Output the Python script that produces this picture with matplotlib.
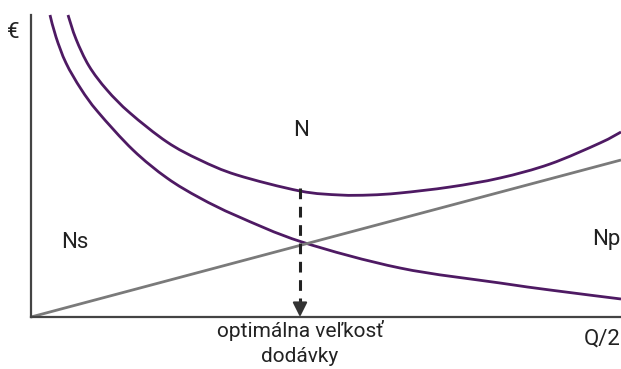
import matplotlib
matplotlib.use("Agg")
import matplotlib.pyplot as plt
from matplotlib.path import Path
from matplotlib.patches import PathPatch

# values (x: quantity, y: cost), arbitrary units
ns_x = [19, 25, 35, 50, 67, 102, 136, 169, 206, 271, 369, 469, 519, 590]
ns_y = [302, 280, 254, 228, 205, 167, 139, 119, 101, 75, 49, 34, 27, 18]

n_x = [37, 45, 58, 76, 99, 136, 169, 206, 269, 309, 339, 369, 419, 469, 519, 569, 590]
n_y = [302, 278, 251, 227, 204, 175, 157, 142, 126, 122, 122, 124, 130, 139, 153, 174, 185]

np_x = [0, 590]
np_y = [0, 157]

opt_x = 269
opt_y = 129

PURPLE = "#4e1a63"
GREY = "#7a7a7a"
AXIS = "#444444"


def smooth_path(xs, ys):
    # catmull-rom through the read points, drawn as cubic bezier segments
    pts = list(zip(xs, ys))
    verts = [pts[0]]
    codes = [Path.MOVETO]
    for i in range(len(pts) - 1):
        p0 = pts[i - 1] if i > 0 else pts[i]
        p1 = pts[i]
        p2 = pts[i + 1]
        p3 = pts[i + 2] if i + 2 < len(pts) else pts[i + 1]
        c1 = (p1[0] + (p2[0] - p0[0]) / 6, p1[1] + (p2[1] - p0[1]) / 6)
        c2 = (p2[0] - (p3[0] - p1[0]) / 6, p2[1] - (p3[1] - p1[1]) / 6)
        verts += [c1, c2, p2]
        codes += [Path.CURVE4] * 3
    return Path(verts, codes)


plt.rcParams['font.family'] = ['Roboto', 'DejaVu Sans']

fig = plt.figure(figsize=(6.21, 3.69), dpi=100)
ax = fig.add_axes([31 / 621, 52 / 369, 590 / 621, 302 / 369])
ax.set_xlim(0, 590)
ax.set_ylim(0, 302)

ax.plot(np_x, np_y, color=GREY, lw=2, clip_on=False, solid_capstyle='butt')
for xs, ys in [(ns_x, ns_y), (n_x, n_y)]:
    ax.add_patch(PathPatch(smooth_path(xs, ys), facecolor='none', edgecolor=PURPLE,
                           lw=2, clip_on=False))

# dashed line + solid arrow head
ax.plot([opt_x, opt_x], [opt_y, 14], color="#222222", lw=2.2, ls=(0, (3.5, 2.5)))
ax.annotate('', xy=(opt_x, 0), xytext=(opt_x, 16),
            arrowprops=dict(arrowstyle='-|>', color="#333333", lw=1.5,
                            mutation_scale=22, shrinkA=0, shrinkB=0))

for s in ['top', 'right']:
    ax.spines[s].set_visible(False)
for s in ['left', 'bottom']:
    ax.spines[s].set_color(AXIS)
    ax.spines[s].set_linewidth(1.6)
ax.set_xticks([])
ax.set_yticks([])

fs = 16
txt = "#222222"
kw = dict(fontsize=fs, color=txt, clip_on=False)
ax.text(-18, 284, "€", ha='center', va='center', **kw)
ax.text(270, 187, "N", ha='center', va='center', **kw)
ax.text(44, 75, "Ns", ha='center', va='center', **kw)
ax.text(575, 77, "Np", ha='center', va='center', **kw)
ax.text(590, -28, "Q/2", ha='right', va='baseline', **kw)
kw['fontsize'] = fs - 1
ax.text(opt_x, -20, "optimálna veľkosť", ha='center', va='baseline', **kw)
ax.text(opt_x, -45, "dodávky", ha='center', va='baseline', **kw)

fig.savefig("out.png", dpi=100)
